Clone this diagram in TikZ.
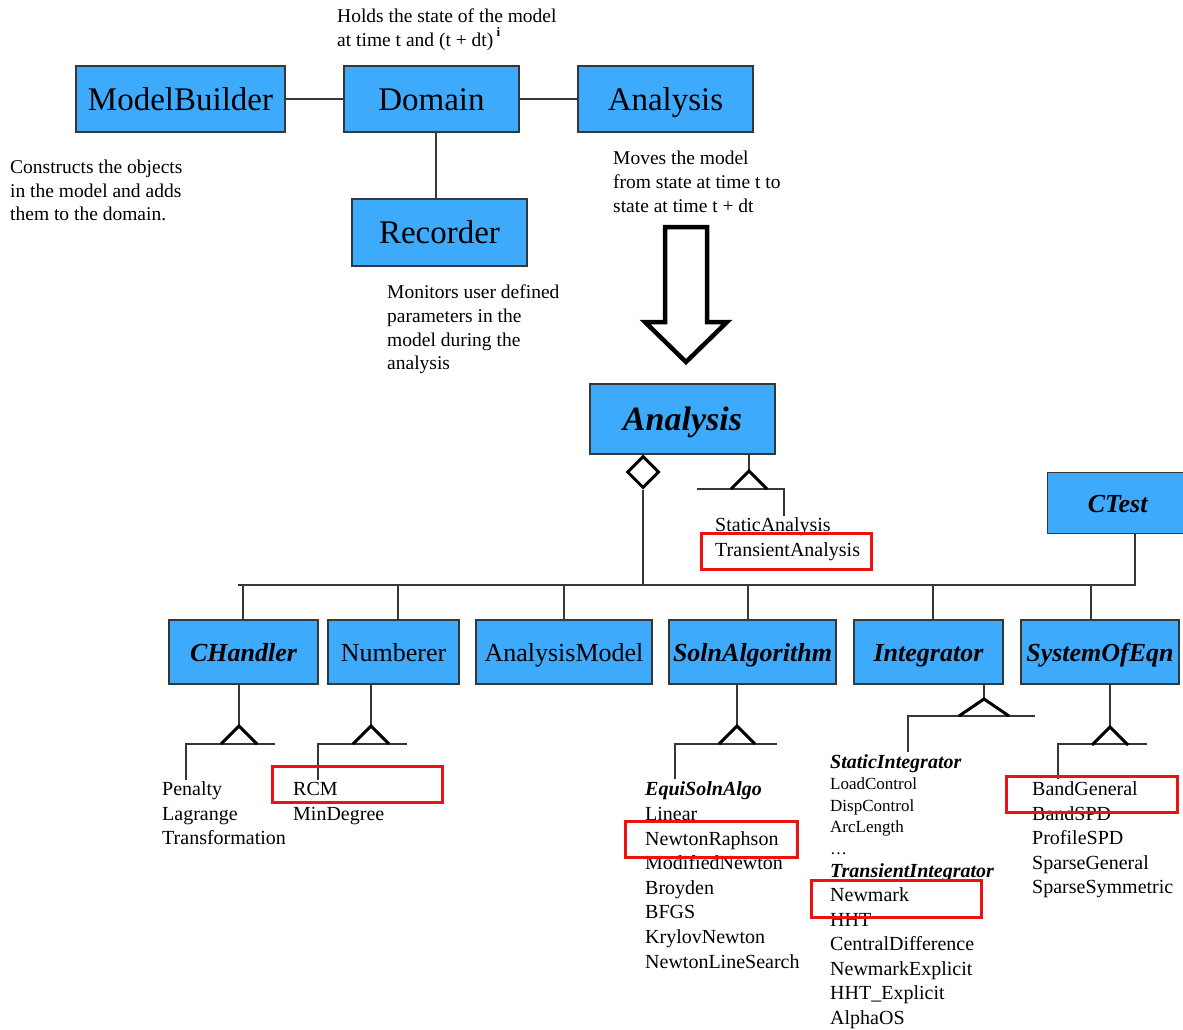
\documentclass[tikz,border=0pt]{standalone}
\usepackage{fontspec}
\setmainfont{Liberation Serif}
\usetikzlibrary{shapes.geometric}
\definecolor{boxblue}{RGB}{62,170,252}
\definecolor{edgegray}{RGB}{55,55,55}
\definecolor{hired}{RGB}{236,18,18}
\begin{document}
\begin{tikzpicture}[x=1pt,y=-1pt,
  cls/.style={draw=edgegray, fill=boxblue, line width=1.3pt, inner sep=0pt, text=black},
  topbox/.style={cls, minimum height=66pt, font=\fontsize{33}{33}\selectfont, text height=22.5pt, text depth=0pt},
  subbox/.style={cls, minimum height=64pt, font=\fontsize{26}{26}\selectfont, text height=18pt, text depth=0pt},
  abstract/.style={font=\fontsize{26}{26}\selectfont\bfseries\itshape, text height=18pt, text depth=0pt},
  note/.style={anchor=west, inner sep=0pt, yshift=-2.5pt, font=\fontsize{19.5}{24}\selectfont, text height=13.5pt, text depth=4pt},
  item/.style={anchor=west, inner sep=0pt, yshift=-2.5pt, font=\fontsize{20}{24}\selectfont, text height=14pt, text depth=4pt},
  smallitem/.style={anchor=west, inner sep=0pt, yshift=-2.5pt, font=\fontsize{17}{20}\selectfont, text height=12pt, text depth=3.5pt},
  headitem/.style={anchor=west, inner sep=0pt, yshift=-2.5pt, font=\fontsize{20}{24}\selectfont\bfseries\itshape, text height=14pt, text depth=4pt},
  wire/.style={draw=edgegray, line width=1.3pt},
  hl/.style={draw=hired, line width=3pt},
  inherit/.pic={\draw[black, line width=3pt, line join=miter] (-18,18) -- (0,0) -- (18,18);},
  inheritwide/.pic={\draw[black, line width=3pt, line join=miter] (-25,17) -- (0,0) -- (25,17);}
]
\useasboundingbox (0,0) rectangle (1183,1030);

% ---- top level: model, domain, analysis, recorder ----
\node[topbox, minimum width=209pt] (mb) at (180.5,99) {ModelBuilder};
\node[topbox, minimum width=175pt] (dom) at (431.5,99) {Domain};
\node[topbox, minimum width=175pt] (ana) at (665.5,99) {Analysis};
\node[topbox, minimum width=175pt, minimum height=67pt] (rec) at (439.5,232.5) {Recorder};
\draw[wire] (mb) -- (dom);
\draw[wire] (dom) -- (ana);
\coordinate (recx) at (436,0);
\draw[wire] (dom.south -| recx) -- (rec.north -| recx);

\node[note] (hold1) at (337,15) {Holds the state of the model};
\node[note] (hold2) at (337,39) {at time t and (t + dt)\raisebox{10pt}{\fontsize{13}{13}\selectfont\bfseries\ i}};
\node[note] (cons1) at (10,166) {Constructs the objects};
\node[note] (cons2) at (10,190) {in the model and adds};
\node[note] (cons3) at (10,213) {them to the domain.};
\node[note] (mov1) at (613,157) {Moves the model};
\node[note] (mov2) at (613,181) {from state at time t to};
\node[note] (mov3) at (613,205) {state at time t + dt};
\node[note] (mon1) at (387,291) {Monitors user defined};
\node[note] (mon2) at (387,315) {parameters in the};
\node[note] (mon3) at (387,339) {model during the};
\node[note] (mon4) at (387,362) {analysis};

% ---- hollow block arrow ----
\draw[black, line width=4.5pt, line join=miter, fill=white]
  (665,227) -- (707,227) -- (707,322) -- (727,322) -- (686,362) -- (645,322) -- (665,322) -- cycle;

% ---- analysis class ----
\node[cls, minimum width=185pt, minimum height=70pt, font=\fontsize{34}{34}\selectfont\bfseries\itshape, text height=23.5pt, text depth=0pt] (an) at (682.5,419) {Analysis};
\node[diamond, draw=black, fill=white, line width=3pt, line join=miter, inner sep=0pt, minimum width=32pt, minimum height=32pt] (agg) at (643,472) {};
\coordinate (busA) at (643,585);
\draw[wire] (agg.south) -- (busA);

% analysis subclasses
\coordinate (ga) at (749,471);
\draw[wire] (an.south -| ga) -- (ga);
\coordinate (ga1) at (697,489);
\coordinate (ga2) at (784,489);
\coordinate (ga3) at (784,516);
\draw[wire] (ga1) -- (ga2) -- (ga3);
\pic at (ga) {inherit};
\node[item] (sta) at (715,524) {StaticAnalysis};
\node[item] (tra) at (715,549) {TransientAnalysis};

% ---- convergence test ----
\node[cls, abstract, minimum width=140pt, minimum height=61pt, anchor=north west] (ct) at (1047,472) {CTest};
\coordinate (busR) at (1135,585);
\coordinate (busL) at (238,585);
\draw[wire] (ct.south -| busR) -- (busR) -- (busL);

% ---- aggregated components ----
\node[subbox, abstract, minimum width=149pt] (chd) at (243.5,652) {CHandler};
\node[subbox, minimum width=131pt] (num) at (393.5,652) {Numberer};
\node[subbox, minimum width=176pt] (amod) at (564,652) {AnalysisModel};
\node[subbox, abstract, minimum width=167pt] (sol) at (752.5,652) {SolnAlgorithm};
\node[subbox, abstract, minimum width=149pt] (intg) at (928.5,652) {Integrator};
\node[subbox, abstract, minimum width=158pt] (soe) at (1100,652) {SystemOfEqn};

\coordinate (d1) at (243,585);
\coordinate (d2) at (398,585);
\coordinate (d3) at (564,585);
\coordinate (d4) at (748,585);
\coordinate (d5) at (933,585);
\coordinate (d6) at (1091,585);
\draw[wire] (d1) -- (d1 |- chd.north);
\draw[wire] (d2) -- (d2 |- num.north);
\draw[wire] (d3) -- (d3 |- amod.north);
\draw[wire] (d4) -- (d4 |- sol.north);
\draw[wire] (d5) -- (d5 |- intg.north);
\draw[wire] (d6) -- (d6 |- soe.north);

% constraint handlers
\coordinate (cha) at (239,726);
\draw[wire] (chd.south -| cha) -- (cha);
\coordinate (ch1) at (275,744);
\coordinate (ch2) at (186,744);
\coordinate (ch3) at (186,780);
\draw[wire] (ch1) -- (ch2) -- (ch3);
\pic at (cha) {inherit};
\foreach \t [count=\i from 0] in {Penalty, Lagrange, Transformation}
  \node[item] (chl\i) at (162,{788+24.5*\i}) {\t};

% numberers
\coordinate (nua) at (371,726);
\draw[wire] (num.south -| nua) -- (nua);
\coordinate (nu1) at (407,744);
\coordinate (nu2) at (318,744);
\coordinate (nu3) at (318,780);
\draw[wire] (nu1) -- (nu2) -- (nu3);
\pic at (nua) {inherit};
\foreach \t [count=\i from 0] in {RCM, MinDegree}
  \node[item] (nul\i) at (293,{788+24.5*\i}) {\t};

% solution algorithms
\coordinate (soa) at (737,726);
\draw[wire] (sol.south -| soa) -- (soa);
\coordinate (so1) at (777,744);
\coordinate (so2) at (675,744);
\coordinate (so3) at (675,779);
\draw[wire] (so1) -- (so2) -- (so3);
\pic at (soa) {inherit};
\node[headitem] (equi) at (645,788) {EquiSolnAlgo};
\foreach \t [count=\i from 0] in {Linear, NewtonRaphson, ModifiedNewton, Broyden, BFGS, KrylovNewton, NewtonLineSearch}
  \node[item] (sol\i) at (645,{813+24.6*\i}) {\t};

% integrators
\coordinate (ina) at (984,699);
\draw[wire] (intg.south -| ina) -- (ina);
\coordinate (in1) at (1035,716);
\coordinate (in2) at (908,716);
\coordinate (in3) at (908,752);
\draw[wire] (in1) -- (in2) -- (in3);
\pic at (ina) {inheritwide};
\node[headitem] (stint) at (830,761) {StaticIntegrator};
\foreach \t [count=\i from 0] in {LoadControl, DispControl, ArcLength, \ldots}
  \node[smallitem] (sti\i) at (830,{783+21.6*\i}) {\t};
\node[headitem] (trint) at (830,870) {TransientIntegrator};
\foreach \t [count=\i from 0] in {Newmark, HHT, CentralDifference, NewmarkExplicit, HHT\_Explicit, AlphaOS}
  \node[item] (tri\i) at (830,{894+24.5*\i}) {\t};

% systems of equations
\coordinate (sya) at (1110,727);
\draw[wire] (soe.south -| sya) -- (sya);
\coordinate (sy1) at (1147,744);
\coordinate (sy2) at (1058,744);
\coordinate (sy3) at (1058,779);
\draw[wire] (sy1) -- (sy2) -- (sy3);
\pic at (sya) {inherit};
\foreach \t [count=\i from 0] in {BandGeneral, BandSPD, ProfileSPD, SparseGeneral, SparseSymmetric}
  \node[item] (syl\i) at (1032,{788+24.5*\i}) {\t};

% ---- highlight frames ----
\draw[hl] (701,533) rectangle (871,569);
\draw[hl] (272,766) rectangle (442,802);
\draw[hl] (625,821) rectangle (797,857);
\draw[hl] (811,880) rectangle (981,917);
\draw[hl] (1006,776) rectangle (1177,812);
\end{tikzpicture}
\end{document}
